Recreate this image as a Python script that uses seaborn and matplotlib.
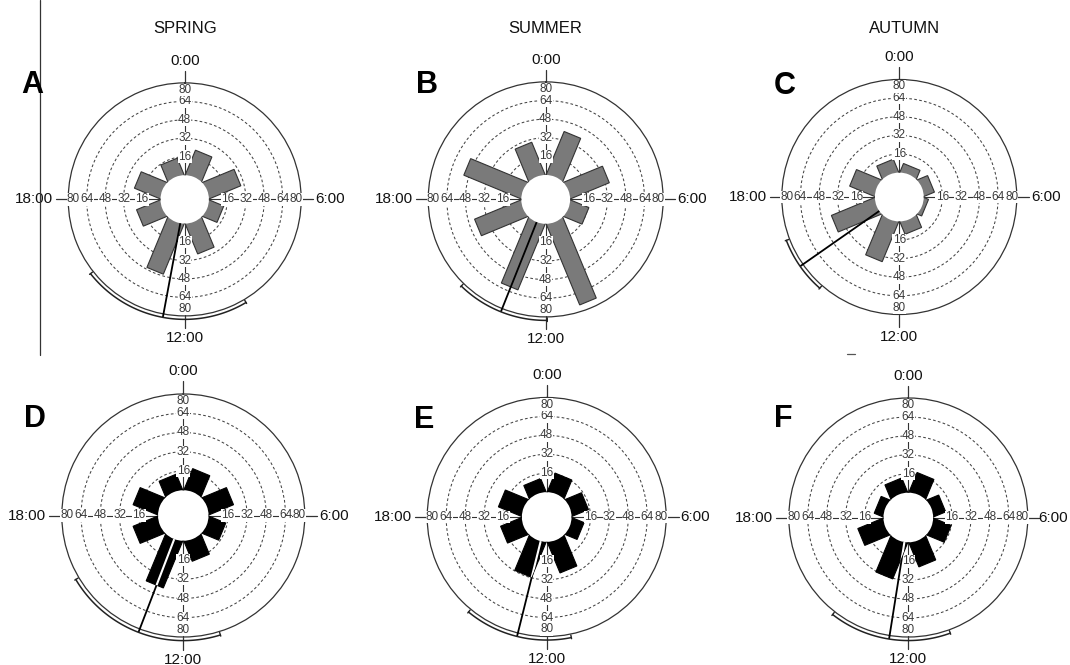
import numpy as np
import matplotlib
matplotlib.use("Agg")
import matplotlib.pyplot as plt
import seaborn as sns
from matplotlib.patches import Polygon
from matplotlib.lines import Line2D

# ---------------------------------------------------------------- data
# 3-hour bins, centred on the middle of each bin (hours of the day)
bin_hours = [1.5, 4.5, 7.5, 10.5, 13.5, 16.5, 19.5, 22.5]

counts_A = [22, 28.5, 12.5, 27, 46, 21, 23, 14.5]
counts_B = [39, 35, 16, 74, 60, 42, 52, 29]
counts_C = [7, 8.5, 3, 10.5, 36, 39, 22, 11]
counts_D = [18, 21, 14, 17, 41, 21, 21, 13]
counts_E = [16, 14, 10, 27, 31, 18, 20, 11]
counts_F = [17, 10, 15, 21, 32, 22, 7, 12]

# mean vector direction and its confidence half-width (hours)
mean_hours = [12.7, 13.45, 15.67, 13.4, 12.93, 12.6]
ci_half_hours = [2.75, 1.5, 0.93, 2.55, 1.7, 1.93]

panel_letters = ["A", "B", "C", "D", "E", "F"]
seasons = ["SPRING", "SUMMER", "AUTUMN"]
ring_values = [16, 32, 48, 64, 80]
clock_labels = ["0:00", "6:00", "12:00", "18:00"]

# ---------------------------------------------------------------- style
sns.set_theme(style="white")
plt.rcParams["font.family"] = ["Liberation Sans", "DejaVu Sans"]
NARROW = ["Liberation Sans Narrow", "Liberation Sans", "DejaVu Sans"]

W, H = 1070, 665
fig = plt.figure(figsize=(W / 100, H / 100), dpi=100)
fig.patch.set_facecolor("white")

R_MAX = 80.0
HOLE = 21.0      # radial offset of the empty centre (data units)
HALF_W = 7.7     # half width of each rectangular bar (data units)
CI_R = 83.0      # radius of the confidence arc
CLOCK_FS = 11

GREY = sns.color_palette(["#7a7a7a"])[0]
BLACK = (0, 0, 0)

# axes centre (px), outer radius (px) for each panel
layout = [
    (184.7, 199.4, 116.5),
    (545.7, 199.4, 117.5),
    (899.3, 197.0, 117.5),
    (183.3, 515.5, 121.5),
    (546.7, 517.0, 119.5),
    (908.3, 517.5, 119.5),
]
panel_counts = [counts_A, counts_B, counts_C, counts_D, counts_E, counts_F]


def h2rad(h):
    return np.asarray(h, dtype=float) / 24.0 * 2 * np.pi


def rose(cx, cy, R, values, fill, edge, mean_h, ci_h):
    ax = fig.add_axes([(cx - R) / W, 1 - (cy + R) / H, 2 * R / W, 2 * R / H],
                      projection="polar")
    ax.set_theta_zero_location("N")
    ax.set_theta_direction(-1)
    ax.set_ylim(0, R_MAX)
    ax.set_rorigin(-HOLE)
    ax.set_facecolor("white")
    ax.set_xticks([])
    ax.set_yticks(ring_values[:-1])
    ax.set_yticklabels([])
    ax.xaxis.grid(False)
    ax.yaxis.grid(True, color="#444444", linewidth=0.75,
                  linestyle=(0, (2.6, 2.2)))
    ax.spines["polar"].set_color("#333333")
    ax.spines["polar"].set_linewidth(0.9)
    ax.spines["inner"].set_linewidth(0)

    # rectangular bars pointing outwards from the centre
    polys = []
    for hc, v in zip(bin_hours, values):
        th = h2rad(hc)
        length = HOLE + v
        a = np.array([0.0, length, length, 0.0])
        b = np.array([-HALF_W, -HALF_W, HALF_W, HALF_W])
        rho = np.hypot(a, b)
        phi = th + np.arctan2(b, a)
        p = Polygon(np.column_stack([phi, rho - HOLE]), closed=True,
                    facecolor=fill, edgecolor=edge, linewidth=0.8, zorder=3)
        ax.add_patch(p)
        polys.append(p)

    # axis spokes, outer ticks and ring labels
    for ang in (0, 6, 12, 18):
        t = h2rad(ang)
        ax.plot([t, t], [0, R_MAX], color="#333333", lw=0.8, zorder=2)
        ax.plot([t, t], [R_MAX, R_MAX + 10.5], color="#333333", lw=0.9,
                zorder=2, clip_on=False)
        vertical = ang in (0, 12)
        for rv in ring_values:
            rpos = rv if rv < R_MAX else (74.0 if vertical else 75.5)
            ax.text(t, rpos, str(rv), ha="center", va="center",
                    fontsize=8.5, family=NARROW, color="#3a3a3a", zorder=5,
                    bbox=dict(facecolor="white", edgecolor="none", pad=0.2))

    ax.text(h2rad(0), 99, clock_labels[0], ha="center", va="center",
            fontsize=CLOCK_FS, color="#111111")
    ax.text(h2rad(12), 99, clock_labels[2], ha="center", va="center",
            fontsize=CLOCK_FS, color="#111111")
    ax.text(h2rad(18), 93, clock_labels[3], ha="right", va="center",
            fontsize=CLOCK_FS, color="#111111")
    # right-hand label, kept inside the figure
    x_right = min(cx + R + 14, W - 32)
    fig.text(x_right / W, 1 - cy / H, clock_labels[1], ha="left",
             va="center", fontsize=CLOCK_FS, color="#111111")

    # mean vector with its confidence arc
    tm = h2rad(mean_h)
    ax.plot([tm, tm], [0, CI_R], color="black", lw=1.3, zorder=6,
            clip_on=False, solid_capstyle="butt")
    if fill == BLACK:
        for p in polys:
            ov, = ax.plot([tm, tm], [0, CI_R], color="white", lw=1.5,
                          zorder=7, solid_capstyle="butt")
            ov.set_clip_path(p)
    arc = h2rad(np.linspace(mean_h - ci_h, mean_h + ci_h, 120))
    ax.plot(arc, np.full_like(arc, CI_R), color="#222222", lw=1.1,
            zorder=6, clip_on=False)
    for end in (arc[0], arc[-1]):
        ax.plot([end, end], [CI_R - 2.2, CI_R + 1.0], color="#222222",
                lw=1.0, zorder=6, clip_on=False)
    return ax


for i, ((cx, cy, R), vals) in enumerate(zip(layout, panel_counts)):
    top = i < 3
    rose(cx, cy, R, vals,
         GREY if top else BLACK,
         "#333333" if top else "black",
         mean_hours[i], ci_half_hours[i])

# panel letters
letter_pos = [(21, 93), (416, 93), (774, 94), (24, 427), (414, 428), (774, 427)]
for (x, y), letter in zip(letter_pos, panel_letters):
    fig.text(x / W, 1 - y / H, letter, fontsize=22, fontweight="bold",
             ha="left", va="baseline", color="black")

# column headings
for x, name in zip([185, 545, 905], seasons):
    fig.text(x / W, 1 - 33 / H, name, fontsize=12, ha="center",
             va="baseline", color="#111111")

# divider at the left of the first row
fig.add_artist(Line2D([40 / W, 40 / W], [1.0, 1 - 355 / H],
                      transform=fig.transFigure, color="#333333", lw=0.9))
fig.add_artist(Line2D([847 / W, 855 / W], [1 - 354 / H, 1 - 354 / H],
                      transform=fig.transFigure, color="#555555", lw=0.9))

fig.savefig("out.png", dpi=100, facecolor="white")
